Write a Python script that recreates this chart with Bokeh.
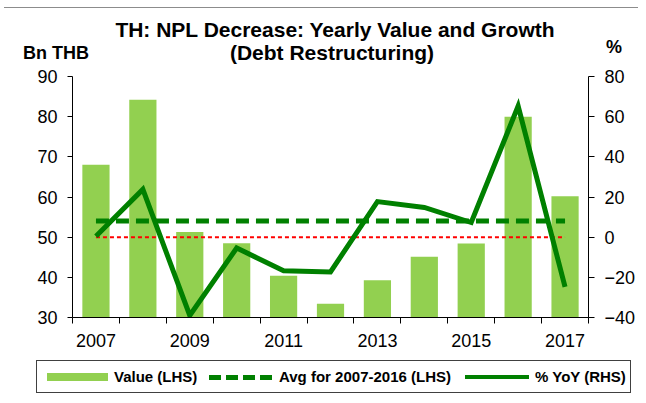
from bokeh.plotting import figure
from bokeh.layouts import column
from bokeh.models import Range1d, LinearAxis, FixedTicker, ColumnDataSource, Div
from bokeh.embed import file_html
from bokeh.resources import INLINE

# ---- data ----
years = [2007, 2008, 2009, 2010, 2011, 2012, 2013, 2014, 2015, 2016, 2017]
value_bn_thb = [68.0, 84.2, 51.3, 48.5, 40.4, 33.4, 39.3, 45.1, 48.4, 80.0, 60.2]
yoy_pct = [0.5, 23.8, -39.0, -5.4, -16.7, -17.3, 17.7, 14.8, 7.3, 65.3, -24.8]
avg_2007_2016 = 54.0
left_ticks = [30, 40, 50, 60, 70, 80, 90]
right_ticks = [-40, -20, 0, 20, 40, 60, 80]
label_years = [2007, 2009, 2011, 2013, 2015, 2017]
title_lines = ["TH: NPL Decrease: Yearly Value and Growth", "(Debt Restructuring)"]
unit_labels = ["Bn THB", "%"]
series_labels = ["Value (LHS)", "Avg for 2007-2016 (LHS)", "% YoY (RHS)"]

FONT = "Liberation Sans"
CSS_FONT = "font-family:'Liberation Sans',Arial,sans-serif;font-weight:bold;color:#000;"
BAR = "#92D050"
DARK = "#008000"
W = 638
HEAD = 66
FOOT = 38
H = 395

def box(left, top, extra):
    return '<div style="position:absolute;left:%dpx;top:%.1fpx;%s"></div>' % (left, top, extra)

def txt(text, left, top, size, width=None):
    w = "width:%dpx;text-align:center;" % width if width else "white-space:nowrap;"
    return ('<div style="position:absolute;left:%dpx;top:%.1fpx;%sfont-size:%dpx;'
            'line-height:%dpx;">%s</div>' % (left, top, w, size, size, text))

def container(h, inner):
    return ('<div style="position:relative;width:%dpx;height:%dpx;%s">' % (W, h, CSS_FONT)
            + inner + '</div>')

# ---- header: titles and axis units ----
header_html = container(HEAD,
    box(4, 7, "width:634px;height:0;border-top:1px solid #8c8c8c;")
    + txt(title_lines[0], 35, 19.2, 21, 600)
    + txt(title_lines[1], 32, 42.2, 21, 600)
    + txt(unit_labels[0], 23, 43.8, 18)
    + txt(unit_labels[1], 606, 37.8, 18))
header = Div(text=header_html, width=W, height=HEAD, margin=0)

# ---- chart ----
p = figure(width=W, height=H - HEAD - FOOT, output_backend="svg",
           toolbar_location=None,
           x_range=Range1d(years[0] - 0.5, years[-1] + 0.5),
           y_range=Range1d(left_ticks[0], left_ticks[-1]),
           min_border_left=72, min_border_right=45, min_border_top=10,
           min_border_bottom=40, margin=0)
p.extra_y_ranges = {"pct": Range1d(right_ticks[0], right_ticks[-1])}
p.outline_line_color = None
p.xgrid.visible = False
p.ygrid.visible = False

src = ColumnDataSource(dict(x=years, v=value_bn_thb, g=yoy_pct))

p.vbar(x="x", top="v", bottom=left_ticks[0], width=0.58, source=src,
       fill_color=BAR, line_color=None)
p.line(x=[years[0], years[-1]], y=[avg_2007_2016, avg_2007_2016],
       line_color=DARK, line_width=5, line_dash="13 7")
p.line(x=[years[0], years[-1]], y=[0, 0], y_range_name="pct",
       line_color="red", line_width=2, line_dash="4 3")
p.line(x="x", y="g", source=src, y_range_name="pct",
       line_color=DARK, line_width=5, line_join="miter")

# ---- axes ----
xa = p.xaxis[0]
minor = [y - 0.5 for y in years] + [years[-1] + 0.5]
xa.ticker = FixedTicker(ticks=label_years, minor_ticks=minor)
xa.major_tick_line_color = None
xa.minor_tick_out = 6
xa.minor_tick_in = 0
xa.minor_tick_line_color = "black"
xa.major_label_standoff = 10

ya = p.yaxis[0]
ya.ticker = FixedTicker(ticks=left_ticks)
ya.minor_tick_line_color = None
ya.major_tick_in = 0
ya.major_tick_out = 5
ya.major_label_standoff = 10

ra = LinearAxis(y_range_name="pct", ticker=FixedTicker(ticks=right_ticks))
ra.minor_tick_line_color = None
ra.major_tick_in = 0
ra.major_tick_out = 6
ra.major_label_standoff = 10
p.add_layout(ra, "right")

for ax in (xa, ya, ra):
    ax.axis_line_color = "black"
    ax.major_label_text_font = FONT
    ax.major_label_text_font_size = "18px"
    ax.major_label_text_color = "black"
    if ax is not xa:
        ax.major_tick_line_color = "black"

# ---- footer: series legend ----
footer_html = container(FOOT,
    box(36, 3, "width:595px;height:33px;box-sizing:border-box;border:1px solid #404040;")
    + box(47, 16, "width:61px;height:8px;background:%s;" % BAR)
    + txt(series_labels[0], 114, 12.3, 15)
    + box(209, 17.5, "width:64px;height:5px;background:repeating-linear-gradient("
                     "to right,%s 0 12px,transparent 12px 17px);" % DARK)
    + txt(series_labels[1], 279, 12.3, 15)
    + box(465, 18, "width:64px;height:4px;background:%s;" % DARK)
    + txt(series_labels[2], 535, 12.3, 15))
footer = Div(text=footer_html, width=W, height=FOOT, margin=0)

layout = column(header, p, footer, spacing=0)
open("out.html", "w").write(file_html(layout, INLINE))
